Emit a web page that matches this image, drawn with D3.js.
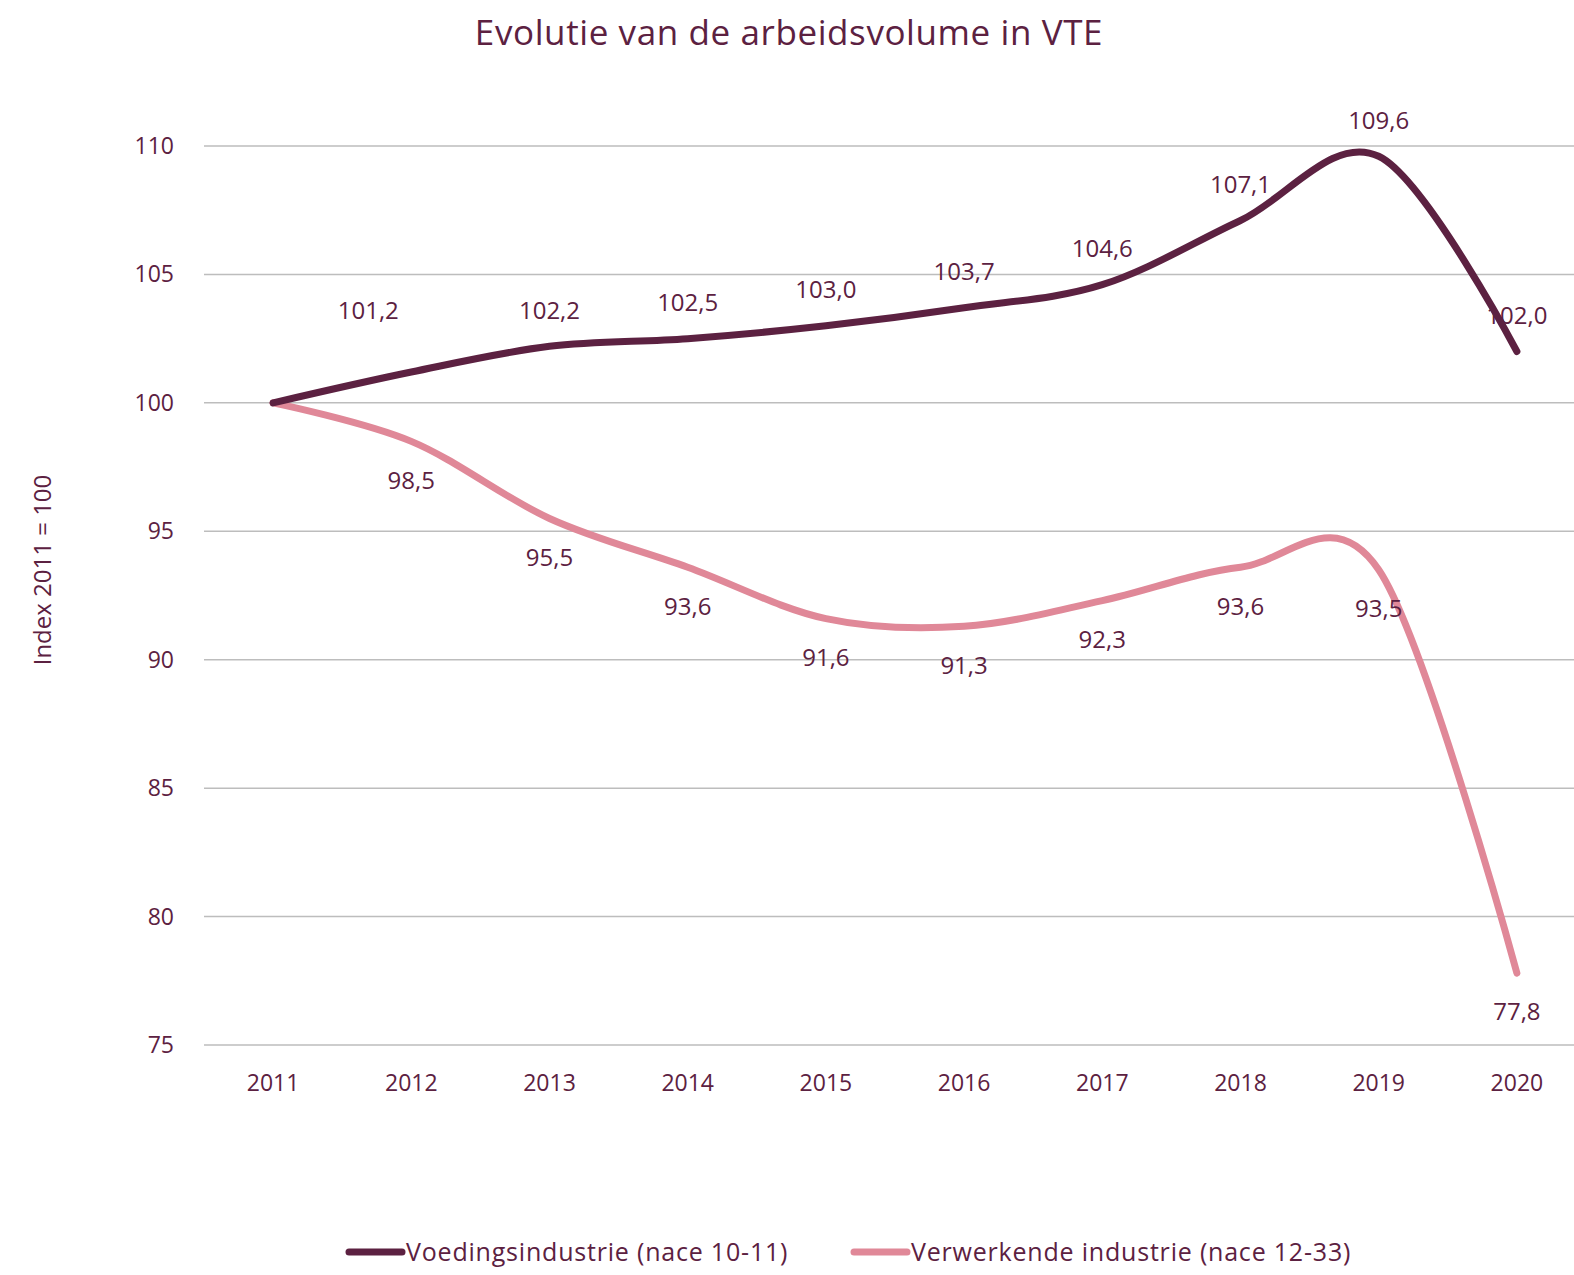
<!DOCTYPE html>
<html>
<head>
<meta charset="utf-8">
<script src="https://cdn.jsdelivr.net/npm/d3@7"></script>
<style>
  body { margin: 0; background: #ffffff; }
  text { font-family: "Open Sans", "Noto Sans", sans-serif; fill: #5c2141; }
</style>
</head>
<body>
<div id="chart"></div>
<script>
//Data
var years = ["2011", "2012", "2013", "2014", "2015", "2016", "2017", "2018", "2019", "2020"];
var voeding = [100, 101.2, 102.2, 102.5, 103.0, 103.7, 104.6, 107.1, 109.6, 102.0];
var verwerkend = [100, 98.5, 95.5, 93.6, 91.6, 91.3, 92.3, 93.6, 93.5, 77.8];
var yTicks = [75, 80, 85, 90, 95, 100, 105, 110];
var seriesNames = ["Voedingsindustrie (nace 10-11)", "Verwerkende industrie (nace 12-33)"];

var width = 1574, height = 1275;
var dark = "#5c2141", pink = "#e08898";

var svg = d3.select("#chart").append("svg")
    .attr("width", width)
    .attr("height", height);

//Scales
var x = d3.scalePoint().domain(years).range([204, 1586]).padding(0.5);
var y = d3.scaleLinear().domain([75, 110]).range([1045, 146]);

//Gridlines
svg.append("g")
    .selectAll("line")
    .data(yTicks)
    .join("line")
    .attr("x1", 204)
    .attr("x2", width)
    .attr("y1", d => y(d))
    .attr("y2", d => y(d))
    .style("stroke", "#bdbdbd")
    .style("stroke-width", "1.5px");

//Y axis labels
svg.append("g")
    .selectAll("text")
    .data(yTicks)
    .join("text")
    .attr("x", 174)
    .attr("y", d => y(d))
    .attr("dy", "0.35em")
    .attr("text-anchor", "end")
    .style("font-size", "23px")
    .text(d => d);

//X axis labels
svg.append("g")
    .selectAll("text")
    .data(years)
    .join("text")
    .attr("x", d => x(d))
    .attr("y", 1083)
    .attr("dy", "0.35em")
    .attr("text-anchor", "middle")
    .style("font-size", "23px")
    .text(d => d);

//Titles
svg.append("text")
    .attr("x", 789)
    .attr("y", 33)
    .attr("dy", "0.35em")
    .attr("text-anchor", "middle")
    .style("font-size", "35px")
    .style("letter-spacing", "0.6px")
    .text("Evolutie van de arbeidsvolume in VTE");

svg.append("text")
    .attr("transform", "translate(43,570) rotate(-90)")
    .attr("dy", "0.35em")
    .attr("text-anchor", "middle")
    .style("font-size", "24px")
    .text("Index 2011 = 100");

//Lines
var line = d3.line()
    .x((d, i) => x(years[i]))
    .y(d => y(d))
    .curve(d3.curveCatmullRom.alpha(0));

function drawSeries(values, color) {
    svg.append("path")
        .datum(values)
        .attr("d", line)
        .style("fill", "none")
        .style("stroke", color)
        .style("stroke-width", "7px")
        .style("stroke-linecap", "round")
        .style("stroke-linejoin", "round");
}
drawSeries(verwerkend, pink);
drawSeries(voeding, dark);

//Data labels
var fmt = d => d.toFixed(1).replace(".", ",");

svg.append("g")
    .selectAll("text")
    .data(voeding.slice(1))
    .join("text")
    .attr("x", (d, i) => x(years[i + 1]) + (i === 0 ? -43 : 0))
    .attr("y", (d, i) => y(d) - (i === 0 ? 61 : 36))
    .attr("dy", "0.35em")
    .attr("text-anchor", "middle")
    .style("font-size", "24px")
    .text(fmt);

svg.append("g")
    .selectAll("text")
    .data(verwerkend.slice(1))
    .join("text")
    .attr("x", (d, i) => x(years[i + 1]))
    .attr("y", d => y(d) + 39)
    .attr("dy", "0.35em")
    .attr("text-anchor", "middle")
    .style("font-size", "24px")
    .text(fmt);

//Legend
var legend = svg.append("g")
    .selectAll("g")
    .data(seriesNames)
    .join("g")
    .attr("transform", (d, i) => "translate(" + (349 + i * 505) + ",1252)");

legend.append("line")
    .attr("x1", 0)
    .attr("x2", 53)
    .style("stroke", (d, i) => i === 0 ? dark : pink)
    .style("stroke-width", "7px")
    .style("stroke-linecap", "round");

legend.append("text")
    .attr("x", 57)
    .attr("dy", "0.35em")
    .style("font-size", "25px")
    .style("letter-spacing", "0.8px")
    .text(d => d);
</script>
</body>
</html>
